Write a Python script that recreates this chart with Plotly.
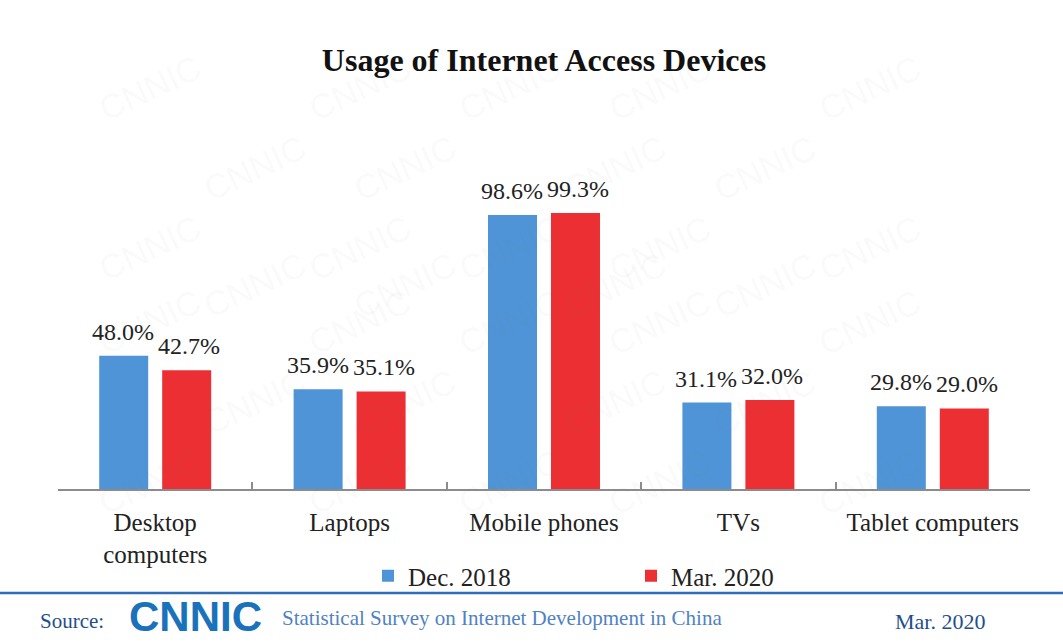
import plotly.graph_objects as go

# ---------------- data ----------------
categories = ["Desktop<br>computers", "Laptops", "Mobile phones", "TVs", "Tablet computers"]
dec_2018 = [48.0, 35.9, 98.6, 31.1, 29.8]
mar_2020 = [42.7, 35.1, 99.3, 32.0, 29.0]
series_names = ["Dec. 2018", "Mar. 2020"]
title_text = "Usage of Internet Access Devices"

BLUE = "#4F94D6"
RED = "#EC2F33"
SERIF = "Liberation Serif, Times New Roman, serif"

# layout geometry (pixels)
W, H = 1063, 642
L, R, T, B = 58, 33, 100, 153
PW, PH = W - L - R, H - T - B


def px(x):
    return (x - L) / PW


def py(y):
    return (H - B - y) / PH


fig = go.Figure()
fig.add_trace(go.Bar(name=series_names[0], x=categories, y=dec_2018,
                     marker=dict(color=BLUE, line=dict(width=0))))
fig.add_trace(go.Bar(name=series_names[1], x=categories, y=mar_2020,
                     marker=dict(color=RED, line=dict(width=0))))

annotations = []
# value labels
for vals, dx in ((dec_2018, -32), (mar_2020, 34)):
    for c, v in zip(categories, vals):
        annotations.append(dict(x=c, y=v, xref="x", yref="y", text=f"{v:.1f}%",
                                showarrow=False, xshift=dx, yshift=9, yanchor="bottom",
                                font=dict(family=SERIF, size=24, color="#222222")))

# faint watermark
wm = []
for j in range(7):
    for i in range(5):
        x = 90 + i * 210 + (j % 2) * 105
        y = 45 + j * 80
        if x > 1000:
            continue
        wm.append(dict(x=px(x), y=py(y), xref="paper", yref="paper", text="CNNIC",
                       showarrow=False, textangle=-25,
                       font=dict(family="Liberation Sans, Arial, sans-serif", size=34,
                                 color="rgba(120,120,120,0.05)")))

# footer
annotations += [
    dict(x=px(38), y=py(621), xref="paper", yref="paper", text="Source:", showarrow=False,
         xanchor="left", yanchor="middle", font=dict(family=SERIF, size=21, color="#1F4E8C")),
    dict(x=px(127), y=py(616), xref="paper", yref="paper", text="<b>CNNIC</b>", showarrow=False,
         xanchor="left", yanchor="middle",
         font=dict(family="Liberation Sans, Arial, sans-serif", size=42, color="#1A72BA")),
    dict(x=px(280), y=py(618), xref="paper", yref="paper",
         text="Statistical Survey on Internet Development in China", showarrow=False,
         xanchor="left", yanchor="middle", font=dict(family=SERIF, size=21, color="#4F82C4")),
    dict(x=px(893), y=py(621), xref="paper", yref="paper", text="Mar. 2020", showarrow=False,
         xanchor="left", yanchor="middle", font=dict(family=SERIF, size=22, color="#1F4E8C")),
]

fig.update_layout(
    width=W, height=H,
    margin=dict(l=L, r=R, t=T, b=B),
    paper_bgcolor="white", plot_bgcolor="white",
    title=dict(text=f"<b>{title_text}</b>", x=544 / W, xanchor="center", y=1 - 60 / H,
               yanchor="middle", font=dict(family=SERIF, size=32, color="#111111")),
    barmode="group", bargap=0.352, bargroupgap=0.222,
    showlegend=True,
    legend=dict(orientation="h", x=px(368), xanchor="left", y=py(576), yanchor="middle",
                font=dict(family=SERIF, size=25, color="#222222"),
                entrywidth=218, entrywidthmode="pixels", itemwidth=30,
                bgcolor="rgba(0,0,0,0)", traceorder="normal"),
    xaxis=dict(showline=True, linecolor="#8C8C8C", linewidth=1.5,
               ticks="inside", tickson="boundaries", ticklen=7, tickcolor="#8C8C8C",
               tickwidth=1.5, ticklabelstandoff=10,
               tickfont=dict(family=SERIF, size=25, color="#222222"),
               showgrid=False, zeroline=False),
    yaxis=dict(range=[0, 140], visible=False, showgrid=False, zeroline=False),
    annotations=wm + annotations,
    shapes=[dict(type="line", xref="paper", yref="paper", x0=px(0), x1=px(W),
                 y0=py(593), y1=py(593), line=dict(color="#2F6DB5", width=2.5))],
)

fig.write_html("out.html")
